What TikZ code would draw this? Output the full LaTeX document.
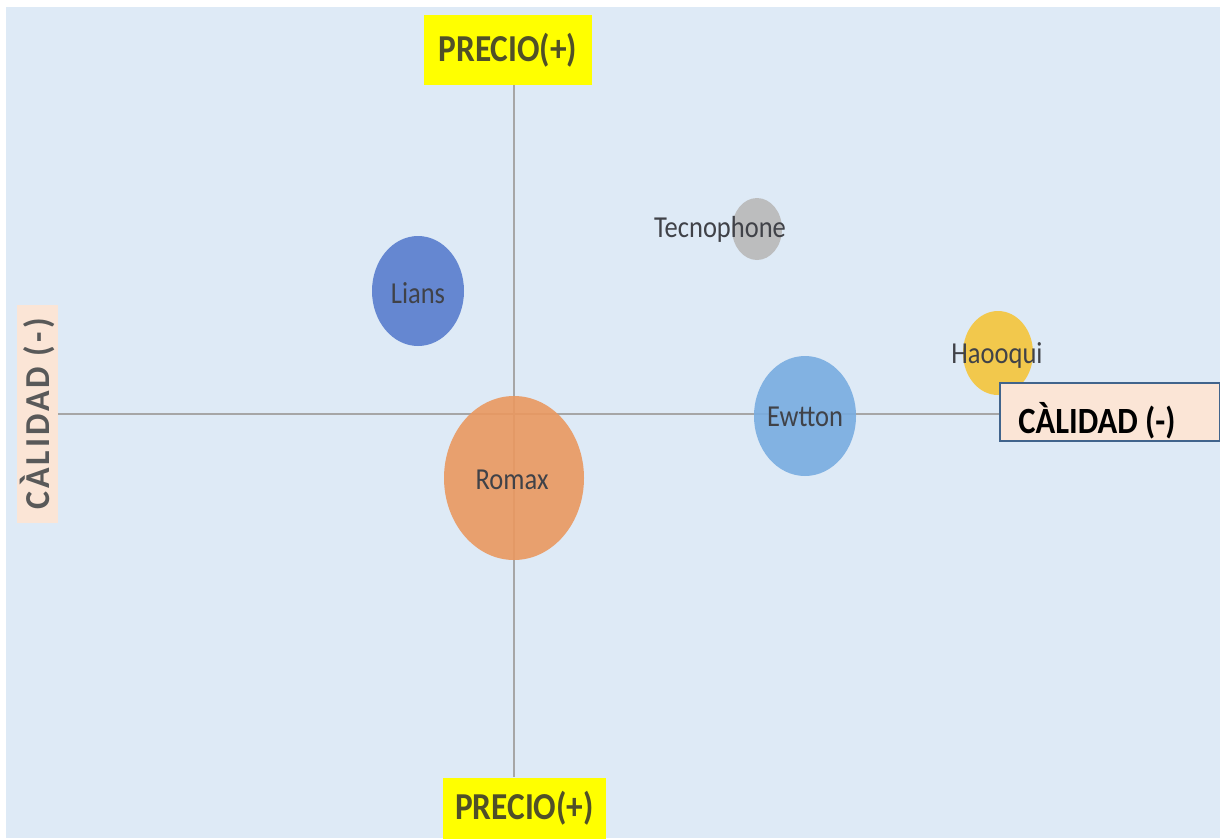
\documentclass[tikz,border=0pt]{standalone}
\usepackage{fontspec}
\setmainfont{Carlito}
\usepackage{graphicx}
\usetikzlibrary{shapes.geometric}
\definecolor{bg}{RGB}{222,234,246}
\definecolor{axisgray}{RGB}{166,166,166}
\definecolor{labyellow}{RGB}{255,255,0}
\definecolor{labtext}{RGB}{80,80,40}
\definecolor{peach}{RGB}{251,229,214}
\definecolor{boxblue}{RGB}{65,100,140}
\definecolor{bubtext}{RGB}{64,66,72}
\definecolor{cLians}{RGB}{88,125,205}
\definecolor{cTecno}{RGB}{185,185,185}
\definecolor{cHao}{RGB}{245,197,58}
\definecolor{cEw}{RGB}{120,172,224}
\definecolor{cRomax}{RGB}{234,152,96}
\newcommand{\tall}[1]{\scalebox{1}[1.15]{#1}}
\newcommand{\tallb}[1]{\scalebox{0.98}[1.12]{#1}}
\begin{document}
\begin{tikzpicture}[x=1pt,y=-1pt,
  yellowlab/.style={fill=labyellow, text=labtext, inner sep=0pt,
    font=\fontsize{34}{38}\selectfont\bfseries},
  leftlab/.style={fill=peach, text=black!65, inner sep=0pt, rotate=90,
    minimum width=218, minimum height=41, font=\fontsize{35}{38}\selectfont\bfseries\addfontfeature{LetterSpace=9}},
  rightlab/.style={fill=peach, draw=boxblue, line width=1.5pt, text=black, inner sep=0pt,
    minimum width=220, minimum height=58, font=\fontsize{37}{40}\selectfont\bfseries},
  bubble/.style={ellipse, inner sep=0pt, draw=none, fill opacity=0.9},
  btext/.style={text=bubtext, font=\fontsize{26.5}{30}\selectfont, inner sep=0pt},
  axis/.style={draw=axisgray, line width=1.8pt}]
\useasboundingbox (0,0) rectangle (1220,838);
\fill[white] (0,0) rectangle (1220,838);
\fill[bg] (6,7) rectangle (1220,838);
% axis labels
\node[yellowlab, minimum width=168, minimum height=70] (top) at (508,50) {\tallb{PRECIO(+)}};
\node[yellowlab, minimum width=163, minimum height=61] (bot) at (524.5,808) {\tallb{PRECIO(+)}};
\node[leftlab] (left) at (37,414) {\scalebox{0.97}[1]{CÀLIDAD (-)}};
\coordinate (o) at (514,414);
% axes
\draw[axis] (o |- top.south) -- (o |- bot.north);
\draw[axis] (58,414) -- (1000,414);
% bubbles
\node[bubble, fill=cLians, minimum width=92, minimum height=110] (lians) at (418,291) {};
\node[bubble, fill=cTecno, minimum width=50, minimum height=62] (tecno) at (757,229) {};
\node[bubble, fill=cHao, minimum width=70, minimum height=84] (hao) at (998,353) {};
\node[bubble, fill=cEw, minimum width=102, minimum height=120] (ew) at (805,416) {};
\node[bubble, fill=cRomax, minimum width=140, minimum height=164] (romax) at (514,478) {};
% bubble labels
\node[btext] (tLians) at (418,293) {\tall{Lians}};
\node[btext] (tTecno) at (720,229) {\tall{Tecnophone}};
\node[btext] (tHao) at (997,355) {\tall{Haooqui}};
\node[btext] (tEw) at (805,417) {\tall{Ewtton}};
\node[btext] (tRomax) at (512,480) {\tall{Romax}};
% right label
\node[rightlab] (right) at (1110,412) {};
\node[text=black, inner sep=0pt, font=\fontsize{37}{40}\selectfont\bfseries] (rtext) at (1097,421) {\scalebox{0.88}[1]{CÀLIDAD (-)}};
\end{tikzpicture}
\end{document}
